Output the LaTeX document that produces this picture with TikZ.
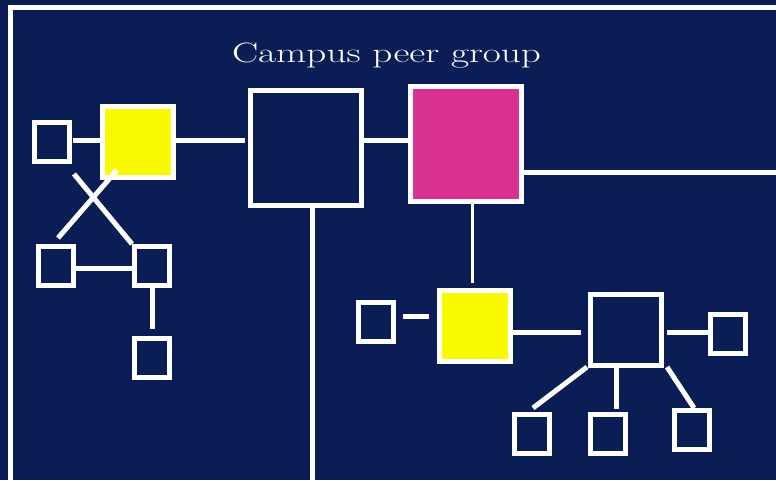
\documentclass[tikz,border=0pt]{standalone}
\usetikzlibrary{calc}
\usepackage{graphicx}
\definecolor{navy}{RGB}{10,29,85}
\definecolor{yel}{RGB}{249,249,0}
\definecolor{pnk}{RGB}{217,51,143}
\begin{document}
\begin{tikzpicture}[x=1pt,y=-1pt,
  box/.style={draw=white,line width=5pt,rectangle,inner sep=0pt,fill=navy},
  smallbox/.style={box,minimum width=35pt,minimum height=39pt},
  midbox/.style={box,minimum width=71pt,minimum height=71pt},
  bigbox/.style={box,minimum width=111pt,minimum height=115pt},
  link/.style={draw=white,line width=5pt},
  thinlink/.style={draw=white,line width=3pt}]
\fill[navy] (0,0) rectangle (776,480);
\useasboundingbox (0,0) rectangle (776,480);
% frame
\coordinate (fbl) at (10.5,490);
\coordinate (ftr) at (790,7);
\draw[white,line width=5pt] (fbl) -- (fbl |- ftr) -- (ftr);
% title
\node[white,anchor=base,inner sep=0pt] (title) at (386.5,62)
  {\scalebox{1.4}[1]{\fontsize{28}{30}\selectfont Campus peer group}};
% left cluster
\node[smallbox] (s1) at (52,142) {};
\node[midbox,fill=yel] (y1) at (138,142) {};
\node[smallbox] (s2) at (56,266) {};
\node[smallbox] (s3) at (152,266) {};
\node[smallbox] (s4) at (152,358) {};
% centre
\node[bigbox] (big) at (306,148) {};
\node[bigbox,fill=pnk] (pk) at (466,144) {};
% right cluster
\node[smallbox] (s5) at (376,322) {};
\node[midbox,fill=yel] (y2) at (474.5,326) {};
\node[midbox] (md) at (626,330) {};
\node[smallbox] (s6) at (728,334) {};
\node[smallbox] (s7) at (532,434) {};
\node[smallbox] (s8) at (608,434) {};
\node[smallbox] (s9) at (692,430) {};
% connectors left
\draw[link] ($(s1.east)+(0.5,-2)$) -- ($(y1.west)+(0,-2)$);
\draw[link] ($(y1.east)+(0,-2)$) -- ($(big.west)+(-3,-8)$);
\coordinate (xa) at (117,170);
\coordinate (xb) at (58,238);
\coordinate (xc) at (74,174);
\draw[link] (xa) -- (xb);
\draw[link] (xc) -- (s3.north west);
\draw[link] ($(s2.east)+(0,2)$) -- ($(s3.west)+(0,2)$);
\draw[link,shorten >=7pt] (s3.south) -- (s4.north);
% connectors centre
\coordinate (bp) at (0,140);
\draw[link] (big.east |- bp) -- (pk.west |- bp);
\coordinate (bbot) at (312,490);
\draw[link] (bbot |- big.south) -- (bbot);
\coordinate (pr) at (790,172);
\draw[link] (pk.east |- pr) -- (pr);
\coordinate (pv) at (472,283);
\draw[thinlink] (pv |- pk.south) -- (pv);
% connectors right
\draw[link] ($(s5.east)+(7,-6)$) -- ($(y2.west)+(-8,-10)$);
\draw[link] ($(y2.east)+(0,6)$) -- ($(md.west)+(-7,2)$);
\draw[link] ($(md.east)+(3,2)$) -- ($(s6.west)+(0,-2)$);
\coordinate (ra) at (587,367);
\coordinate (rb) at (533,408);
\draw[link] (ra) -- (rb);
\coordinate (rc) at (616,409);
\draw[link] (rc |- md.south) -- (rc);
\coordinate (rd) at (667,367);
\coordinate (re) at (694,408);
\draw[link] (rd) -- (re);
\end{tikzpicture}
\end{document}
